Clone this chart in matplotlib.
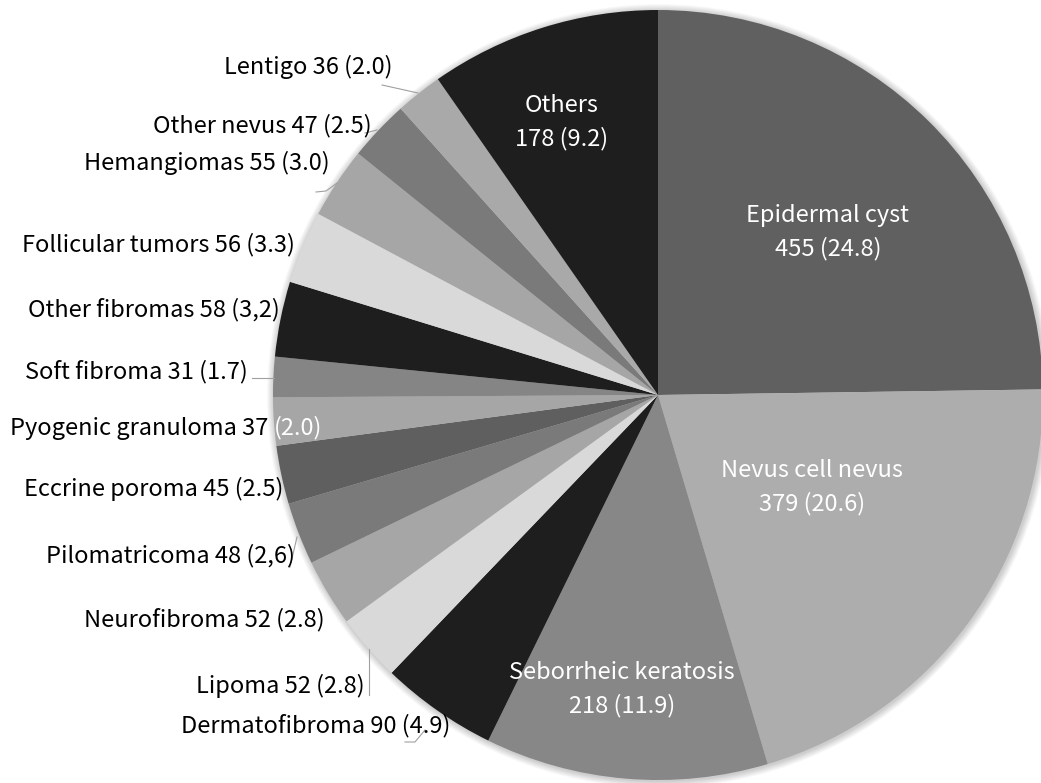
import matplotlib
matplotlib.use("Agg")
import matplotlib.pyplot as plt
from matplotlib.patches import Circle

plt.rcParams['font.family'] = ['Noto Sans CJK JP', 'DejaVu Sans']

# data, clockwise from 12 o'clock
names = ['Epidermal cyst', 'Nevus cell nevus', 'Seborrheic keratosis', 'Dermatofibroma',
         'Lipoma', 'Neurofibroma', 'Pilomatricoma', 'Eccrine poroma', 'Pyogenic granuloma',
         'Soft fibroma', 'Other fibromas', 'Follicular tumors', 'Hemangiomas',
         'Other nevus', 'Lentigo', 'Others']
counts = [455, 379, 218, 90, 52, 52, 48, 45, 37, 31, 58, 56, 55, 47, 36, 178]
pct_text = ['24.8', '20.6', '11.9', '4.9', '2.8', '2.8', '2,6', '2.5', '2.0',
            '1.7', '3,2', '3.3', '3.0', '2.5', '2.0', '9.2']

colors = ['#606060', '#adadad', '#878787', '#1e1e1e', '#d9d9d9', '#a6a6a6', '#7a7a7a',
          '#5f5f5f', '#a6a6a6', '#858585', '#1e1e1e', '#d9d9d9', '#a6a6a6', '#7a7a7a',
          '#a9a9a9', '#1e1e1e']

W, H = 1041, 783
fig = plt.figure(figsize=(W / 100, H / 100), dpi=100)
ax = fig.add_axes([0, 0, 1, 1])

cx, cy, r = 658, H - 395, 385

# soft shadow round the pie
for k in range(10, 0, -1):
    ax.add_patch(Circle((cx + 1, cy - 1), r + k * 0.7, color='#000000', alpha=0.02, lw=0))

ax.pie(counts, colors=colors, startangle=90, counterclock=False, center=(cx, cy),
       radius=r, wedgeprops=dict(linewidth=0), frame=True)
ax.set_xlim(0, W)
ax.set_ylim(0, H)
ax.set_aspect('equal')
ax.axis('off')

fs = 17

# labels inside the big slices (white, two lines)
inside = {0: (828, 232), 1: (812, 487), 2: (622, 689), 15: (562, 122)}
for i, (x, y) in inside.items():
    ax.text(x, H - y, f"{names[i]}\n{counts[i]} ({pct_text[i]})", color='white',
            ha='center', va='center', fontsize=fs, linespacing=1.55)

# outside labels: right edge x, centre y (pixels from top)
outside = {14: (393, 67), 13: (372, 126), 12: (330, 163), 11: (295, 245),
           10: (280, 310), 9: (248, 372), 7: (283, 489), 6: (295, 556),
           5: (325, 620), 4: (365, 686), 3: (450, 726)}
for i, (x, y) in outside.items():
    ax.text(x, H - y, f"{names[i]} {counts[i]} ({pct_text[i]})", color='black',
            ha='right', va='center', fontsize=fs)

# pyogenic granuloma: the percentage sits over the pie in white
ax.text(268, H - 428, f"{names[8]} {counts[8]}", color='black',
        ha='right', va='center', fontsize=fs)
ax.text(274, H - 428, f"({pct_text[8]})", color='white', ha='left', va='center', fontsize=fs)

# leader lines
leaders = [([382, 418], [85, 93]),
           ([365, 377], [133, 130]),
           ([316, 326, 337], [192, 191, 183]),
           ([252, 274], [378, 378]),
           ([290, 297], [567, 537]),
           ([369, 369], [695, 649]),
           ([405, 415, 425], [742, 742, 730])]
for xs, ys in leaders:
    ax.plot(xs, [H - y for y in ys], color='#a0a0a0', lw=0.8)

fig.savefig('out.png', dpi=100, facecolor='white')
